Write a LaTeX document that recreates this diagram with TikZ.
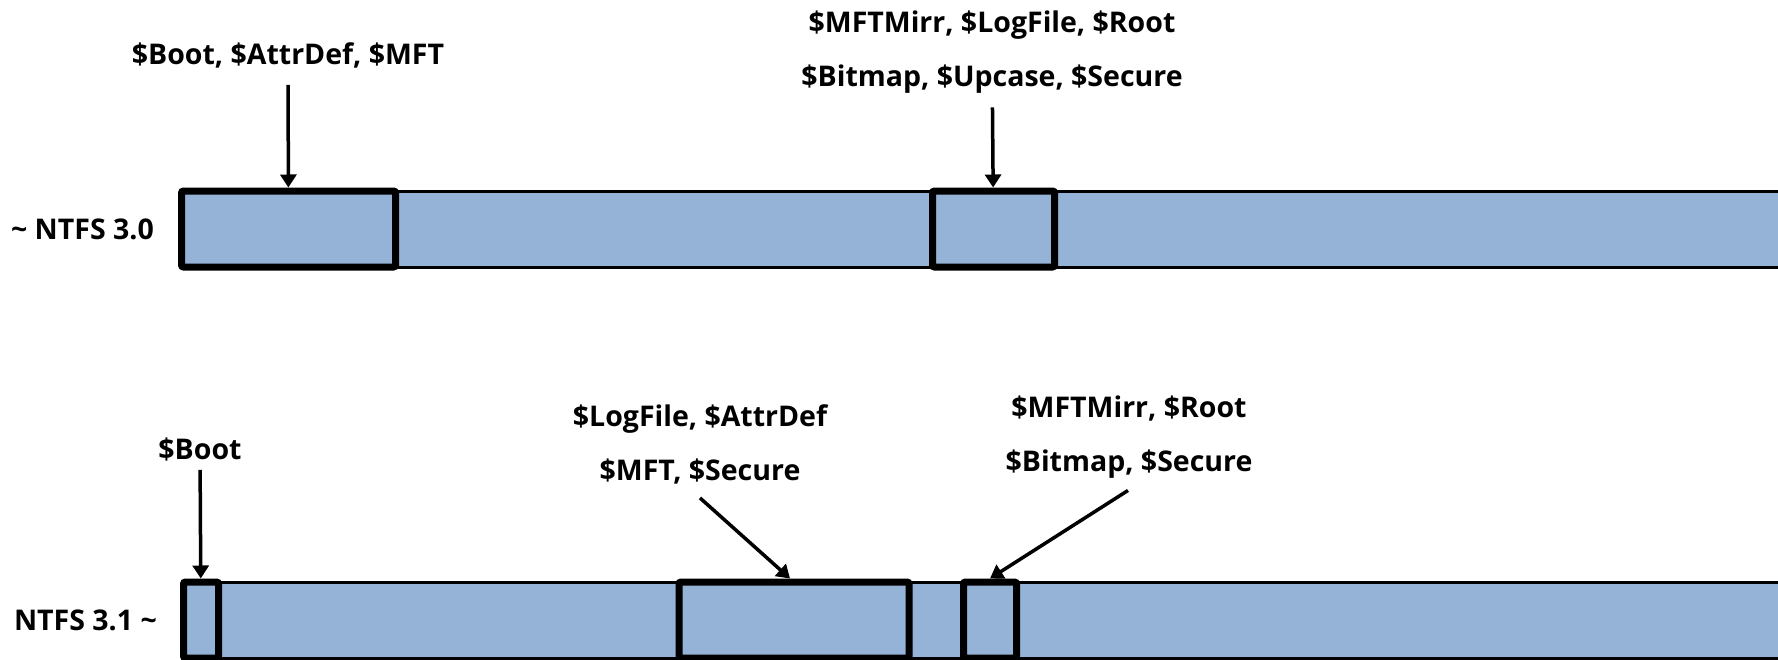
\documentclass[tikz,border=0pt]{standalone}
\usepackage{fontspec}
\setmainfont{Open Sans}
\usetikzlibrary{positioning, arrows.meta}
\definecolor{barblue}{RGB}{149,179,215}

\begin{document}
\begin{tikzpicture}[
	x=1pt, y=-1pt,
	bar/.style={rectangle, draw, fill=barblue, line width=3pt, minimum height=76pt, inner sep=0pt, anchor=west},
	chunk/.style={rectangle, draw, line width=7pt, rounded corners=2pt, minimum height=76pt, inner sep=0pt},
	textb/.style={inner sep=0pt, align=center, font=\fontsize{28.5}{54}\selectfont\bfseries},
	arr/.style={-{Triangle[width=16pt, length=13pt]}, line width=3.5pt}
]
\path[use as bounding box, clip] (0,0) rectangle (1778,659);

% NTFS 3.0 layout
\node[bar, minimum width=1620pt] (barA) at (180,229) {};
\node[chunk, minimum width=214pt] (bootA) at (288.5,229) {};
\node[chunk, minimum width=122pt] (mirrA) at (993.5,229) {};
\node[textb, left=26pt of barA] (verA) {\textasciitilde{} NTFS 3.0};

\node[textb] (labA1) at (288,55) {\$Boot, \$AttrDef, \$MFT};
\node[textb] (labA2) at (992,52) {\$MFTMirr, \$LogFile, \$Root\\\$Bitmap, \$Upcase, \$Secure};

% NTFS 3.1 layout
\node[bar, minimum width=1620pt] (barB) at (183,620) {};
\node[chunk, minimum width=35pt] (bootB) at (201,620) {};
\node[chunk, minimum width=230pt] (mftB) at (794,620) {};
\node[chunk, minimum width=53pt] (mirrB) at (990,620) {};
\node[textb, left=26pt of barB] (verB) {NTFS 3.1 \textasciitilde};

\node[textb] (labB1) at (200,450) {\$Boot};
\node[textb] (labB2) at (700,444) {\$LogFile, \$AttrDef\\\$MFT, \$Secure};
\node[textb] (labB3) at (1129,437) {\$MFTMirr, \$Root\\\$Bitmap, \$Secure};

\draw[arr, shorten <=17pt] (labA1) -- (bootA);
\draw[arr, shorten <=14pt] (labA2) -- (mirrA);
\draw[arr, shorten <=8pt] (labB1) -- (bootB);
\draw[arr] ([yshift=-14pt]labB2.south) -- ([xshift=-4pt]mftB.north);
\draw[arr] ([xshift=-1pt, yshift=-12pt]labB3.south) -- (mirrB.north);

\end{tikzpicture}
\end{document}
